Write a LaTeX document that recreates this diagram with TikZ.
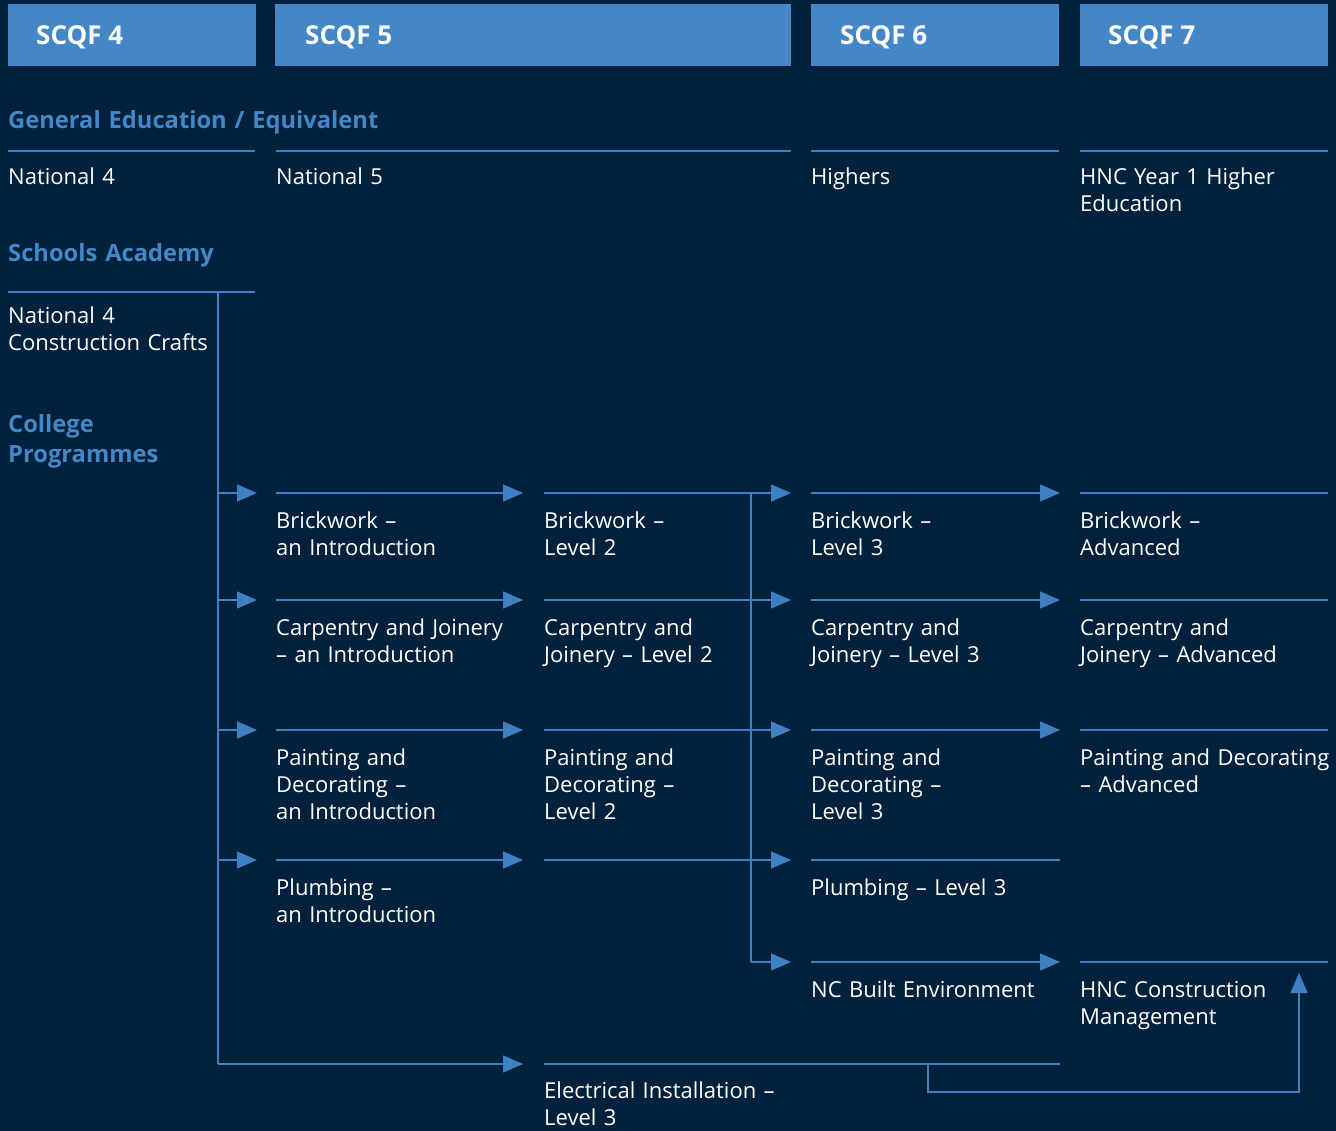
\documentclass[tikz,border=0pt]{standalone}
\usepackage{fontspec}
\setmainfont{Open Sans}
\usetikzlibrary{arrows.meta}
\definecolor{bg}{HTML}{01213C}
\definecolor{bl}{HTML}{4487C7}
\definecolor{ln}{HTML}{3F80C2}
\tikzset{
  rule/.style={ln, line width=1.5pt},
  arr/.style={rule, -{Triangle[length=20pt,width=17pt]}},
  body/.style={anchor=base west, inner sep=0pt, text width=300pt, align=left, text=white, font=\fontsize{22}{27}\selectfont},
  head/.style={anchor=base west, inner sep=0pt, text width=400pt, align=left, text=bl, font=\bfseries\fontsize{23.7}{30}\selectfont},
  hdrbox/.style={fill=bl, anchor=north west, minimum height=62pt, inner sep=0pt},
  hdrtext/.style={anchor=base west, inner sep=0pt, text=white, font=\bfseries\fontsize{26}{28}\selectfont}
}
\begin{document}
\begin{tikzpicture}[x=1pt,y=-1pt]
\fill[bg] (0,0) rectangle (1336,1131);
\useasboundingbox (0,0) rectangle (1336,1131);

% header
\node[hdrbox, minimum width=248pt] (b4) at (8,4) {};
\node[hdrbox, minimum width=516pt] (b5) at (275,4) {};
\node[hdrbox, minimum width=248pt] (b6) at (811,4) {};
\node[hdrbox, minimum width=248pt] (b7) at (1080,4) {};
\node[hdrtext] (t4) at (36,45) {SCQF 4};
\node[hdrtext] (t5) at (305,45) {SCQF 5};
\node[hdrtext] (t6) at (840,45) {SCQF 6};
\node[hdrtext] (t7) at (1108,45) {SCQF 7};

% section headings
\node[head] (hg) at (8,129) {General Education / Equivalent};
\node[head] (hs) at (8,262) {Schools Academy};
\node[head] (hc) at (8,432) {College\\Programmes};

% general education rules and texts
\foreach \a/\b [count=\i] in {8/255,276/791,811/1059,1080/1328}{
  \coordinate (gA\i) at (\a,151); \coordinate (gB\i) at (\b,151);
  \draw[rule] (gA\i) -- (gB\i);
}
\node[body] (n4) at (8,185) {National 4};
\node[body] (n5) at (276,185) {National 5};
\node[body] (hi) at (811,185) {Highers};
\node[body] (hny) at (1080,185) {HNC Year 1 Higher\\Education};

% schools academy
\coordinate (sA) at (8,292); \coordinate (sB) at (255,292);
\draw[rule] (sA) -- (sB);
\node[body] (n4c) at (8,324) {National 4\\Construction Crafts};

% spine
\coordinate (sp0) at (218,292);
\coordinate (sp6) at (218,1064);
\draw[rule] (sp0) -- (sp6);

% college rows: coordinates
\foreach \r/\y in {1/493,2/600,3/730,4/860}{
  \coordinate (L\r) at (218,\y);
  \coordinate (a\r) at (257,\y);
  \coordinate (b\r) at (276,\y); \coordinate (c\r) at (523,\y);
  \coordinate (d\r) at (544,\y); \coordinate (e\r) at (791,\y);
  \coordinate (f\r) at (811,\y); \coordinate (g\r) at (1060,\y);
  \coordinate (h\r) at (1080,\y); \coordinate (k\r) at (1328,\y);
  \draw[arr] (L\r) -- (a\r);
  \draw[arr] (b\r) -- (c\r);
  \draw[arr] (d\r) -- (e\r);
}
\foreach \r in {1,2,3}{
  \draw[arr] (f\r) -- (g\r);
  \draw[rule] (h\r) -- (k\r);
}
\draw[rule] (f4) -- (g4);

% NC built environment row
\coordinate (v1) at (751,493);
\coordinate (v5) at (751,962);
\coordinate (e5) at (791,962);
\coordinate (f5) at (811,962); \coordinate (g5) at (1060,962);
\coordinate (h5) at (1080,962); \coordinate (k5) at (1328,962);
\draw[rule] (v1) -- (v5);
\draw[arr] (v5) -- (e5);
\draw[arr] (f5) -- (g5);
\draw[rule] (h5) -- (k5);

% electrical row
\coordinate (c6) at (523,1064);
\coordinate (d6) at (544,1064); \coordinate (g6) at (1060,1064);
\coordinate (j6) at (928,1064);
\coordinate (up) at (1299,973);
\draw[arr] (sp6) -- (c6);
\draw[rule] (d6) -- (g6);
\draw[arr] (j6) |- (1299,1092) -- (up);

% row texts
\node[body] (bw1) at (276,528) {Brickwork –\\an Introduction};
\node[body] (bw2) at (544,528) {Brickwork –\\Level 2};
\node[body] (bw3) at (811,528) {Brickwork –\\Level 3};
\node[body] (bw4) at (1080,528) {Brickwork –\\Advanced};

\node[body] (cj1) at (276,635) {Carpentry and Joinery\\– an Introduction};
\node[body] (cj2) at (544,635) {Carpentry and\\Joinery – Level 2};
\node[body] (cj3) at (811,635) {Carpentry and\\Joinery – Level 3};
\node[body] (cj4) at (1080,635) {Carpentry and\\Joinery – Advanced};

\node[body] (pd1) at (276,765) {Painting and\\Decorating –\\an Introduction};
\node[body] (pd2) at (544,765) {Painting and\\Decorating –\\Level 2};
\node[body] (pd3) at (811,765) {Painting and\\Decorating –\\Level 3};
\node[body] (pd4) at (1080,765) {Painting and Decorating\\– Advanced};

\node[body] (pl1) at (276,895) {Plumbing –\\an Introduction};
\node[body] (pl3) at (811,895) {Plumbing – Level 3};

\node[body] (nc) at (811,997) {NC Built Environment};
\node[body] (hnc) at (1080,997) {HNC Construction\\Management};

\node[body] (el) at (544,1098) {Electrical Installation –\\Level 3};
\end{tikzpicture}
\end{document}
